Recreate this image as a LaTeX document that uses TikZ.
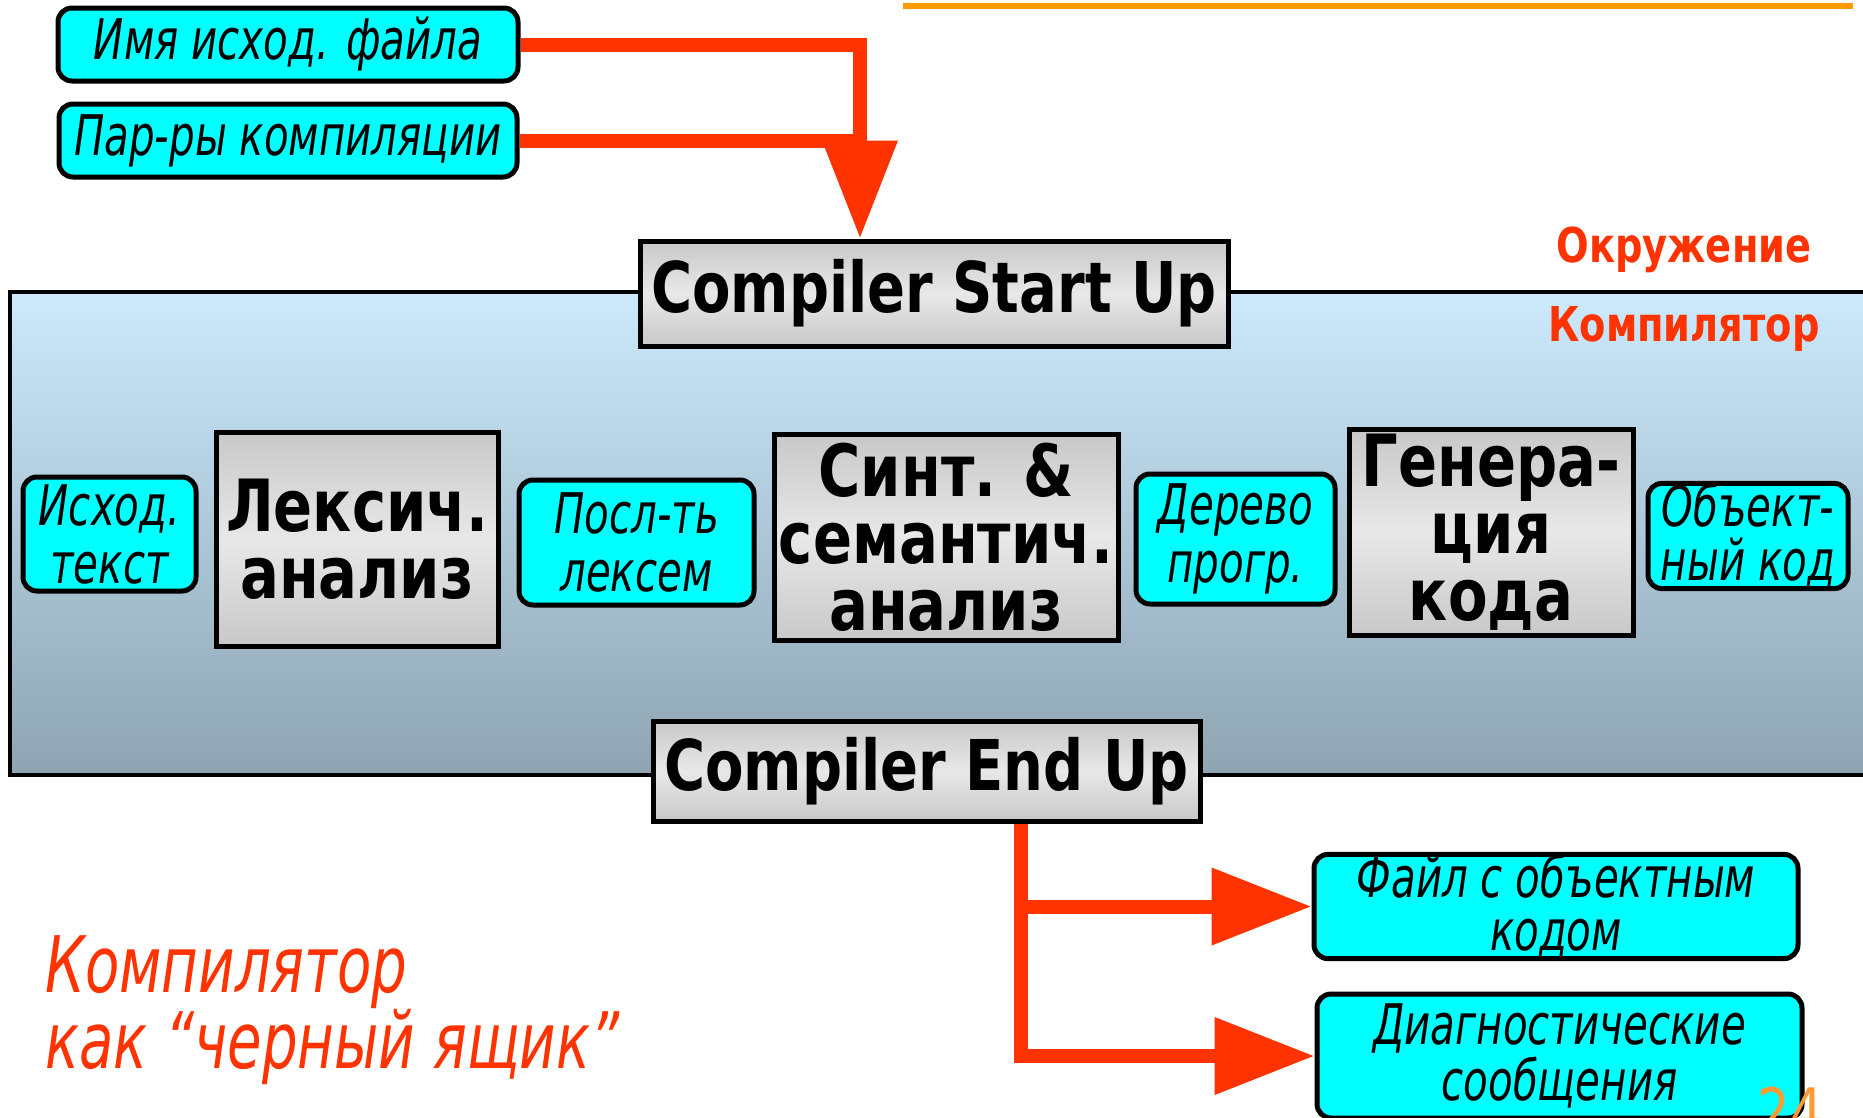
\documentclass[tikz,border=0pt]{standalone}
\usepackage{fontspec}
\setmainfont{DejaVu Sans}[FakeStretch=0.8]
\newfontfamily\condfont{DejaVu Sans}[FakeStretch=0.72]
\usetikzlibrary{arrows.meta}
\definecolor{cyanbox}{RGB}{0,255,255}
\definecolor{redarr}{RGB}{255,51,0}
\definecolor{orangeline}{RGB}{255,153,0}
\definecolor{pagenum}{RGB}{255,153,51}
\definecolor{grayA}{RGB}{200,200,200}
\definecolor{grayB}{RGB}{232,232,232}
\definecolor{skyA}{RGB}{204,234,252}
\definecolor{skyB}{RGB}{142,164,178}
\tikzset{
  grbox/.style={draw=black, line width=5pt, top color=grayA, bottom color=grayA, middle color=grayB,
    align=center, inner sep=0pt, font=\bfseries\fontsize{72}{67}\selectfont},
  hdbox/.style={grbox, font=\bfseries\fontsize{70}{70}\selectfont},
  cybox/.style={draw=black, line width=5pt, fill=cyanbox, rounded corners=14pt,
    align=center, inner sep=0pt, font=\condfont\itshape\fontsize{56}{58}\selectfont},
  conn/.style={draw=redarr, line width=14pt, line join=miter},
  bigtip/.style={-{Triangle[width=72pt,length=98pt]}},
  sidetip/.style={-{Triangle[width=74pt,length=100pt]}},
  redlbl/.style={text=redarr, font=\bfseries\fontsize{48}{50}\selectfont, inner sep=0pt}
}
\begin{document}
\begin{tikzpicture}[x=1pt,y=-1pt]
\clip (0,0) rectangle (1863,1117);
\useasboundingbox (0,0) rectangle (1863,1117);
\fill[white] (0,0) rectangle (1863,1117);

% orange rule at top
\fill[orangeline] (903,3) rectangle (1853,9);

% compiler area
\path[draw=black, line width=4pt, top color=skyA, bottom color=skyB] (10,292) rectangle (1890,775);

% inputs
\node[cybox, minimum width=460pt, minimum height=73pt] (f1) at (288,44.5) {Имя исход. файла};
\node[cybox, minimum width=458pt, minimum height=73pt] (f2) at (288,140.5) {Пар-ры компиляции};

% start / end
\node[hdbox, minimum width=588pt, minimum height=105pt] (start) at (934,293.5) {Compiler Start Up};
\node[hdbox, minimum width=547pt, minimum height=100pt] (end) at (926.5,771) {Compiler End Up};

% labels
\node[redlbl] (env) at (1684,250) {Окружение};
\node[redlbl] (cmp) at (1684,329) {Компилятор};

% pipeline
\node[cybox, minimum width=173pt, minimum height=114pt] (src) at (109.5,534) {Исход.\\текст};
\node[grbox, minimum width=282pt, minimum height=214pt] (lex) at (357,539) {Лексич.\\анализ};
\node[cybox, minimum width=235pt, minimum height=125pt] (tok) at (636.5,542.5) {Посл-ть\\лексем};
\node[grbox, minimum width=344pt, minimum height=206pt] (syn) at (946,537) {Синт. \&\\семантич.\\анализ};
\node[cybox, minimum width=199pt, minimum height=130pt] (tree) at (1235.5,539) {Дерево\\прогр.};
\node[grbox, minimum width=284pt, minimum height=206pt] (gen) at (1491,532) {Генера-\\ция\\кода};
\node[cybox, minimum width=200pt, minimum height=100pt, font=\condfont\itshape\fontsize{56}{54}\selectfont] (obj) at (1748,536) {Объект-\\ный код};

% outputs
\node[cybox, minimum width=484pt, minimum height=103pt, font=\condfont\itshape\fontsize{56}{53}\selectfont] (file) at (1556,906.5) {Файл с объектным\\кодом};
\node[cybox, minimum width=485pt, minimum height=124pt, font=\condfont\itshape\fontsize{56}{56}\selectfont] (diag) at (1559.5,1056) {Диагностические\\сообщения};

% black box caption
\node[text=redarr, anchor=west, align=left, inner sep=0pt,
  font=\condfont\itshape\fontsize{78}{62}\selectfont] (bb) at (45,1010) {Компилятор\\как “черный ящик”};

% page number
\node[text=pagenum, anchor=base, inner sep=0pt, font=\fontsize{64}{64}\selectfont] (pg) at (1790,1134) {24};

% connectors in
\coordinate (j1) at (860,44.5);
\draw[conn] (f2.east) -- (f2.east -| j1);
\draw[conn, bigtip] (f1.east) -- (j1) -- (j1 |- start.north);

% connectors out
\coordinate (b2) at (1021,1056);
\draw[conn, sidetip] (end.south -| b2) -- (b2) -- (diag.west);
\draw[conn, sidetip] (b2 |- file.west) -- (file.west);
\end{tikzpicture}
\end{document}
